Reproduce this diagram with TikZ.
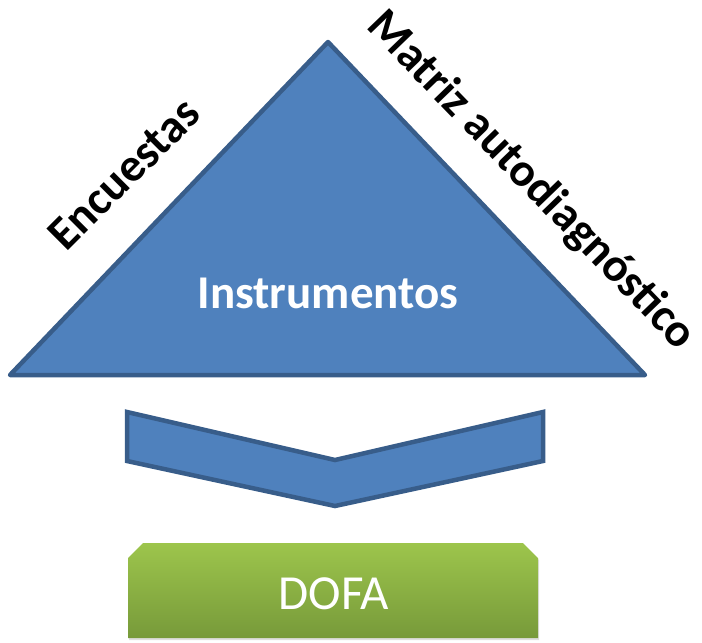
\documentclass[tikz,border=0pt]{standalone}
\usepackage{fontspec}
\setmainfont{Carlito}
\usetikzlibrary{shadows}

\definecolor{boxblue}{HTML}{4F81BD}
\definecolor{edgeblue}{HTML}{385D8A}
\definecolor{greentop}{HTML}{9DC54C}
\definecolor{greenbot}{HTML}{779A3A}

\begin{document}
\begin{tikzpicture}[x=1pt,y=-1pt]
  \useasboundingbox (0,0) rectangle (702,643);
  \tikzset{ShapeStyle/.style = {fill           = boxblue,
                                draw           = edgeblue,
                                line width     = 4.5pt,
                                line join      = round}}
  \tikzset{SideStyle/.style  = {font           = \fontsize{47}{52}\selectfont\bfseries,
                                text           = black,
                                inner sep      = 0pt}}
  % triangle
  \coordinate (Top)   at (328,42);
  \coordinate (Left)  at (10,375);
  \coordinate (Right) at (645,375);
  \draw[ShapeStyle] (Top) -- (Left) -- (Right) -- cycle;
  \node[font=\fontsize{47}{52}\selectfont\bfseries,text=white] (instr) at (328,293) {Instrumentos};
  \node[SideStyle,rotate=45]  (encu) at (124,174) {Encuestas};
  \node[SideStyle,rotate=-46] (matr) at (531,181) {Matriz autodiagnóstico};
  % chevron
  \draw[ShapeStyle,line join=miter] (127,412) -- (335,460) -- (543,412) -- (543,461)
       -- (335,506) -- (127,461) -- cycle;
  % DOFA box
  \path[top color=greentop,bottom color=greenbot,drop shadow={opacity=0.25,shadow xshift=1pt,shadow yshift=-2pt}]
       (128,638) -- (128,558) -- (143,543) -- (523,543) -- (538,558) -- (538,638) -- cycle;
  \node[font=\fontsize{49}{56}\selectfont,text=white] (dofa) at (334,594) {DOFA};
\end{tikzpicture}
\end{document}
